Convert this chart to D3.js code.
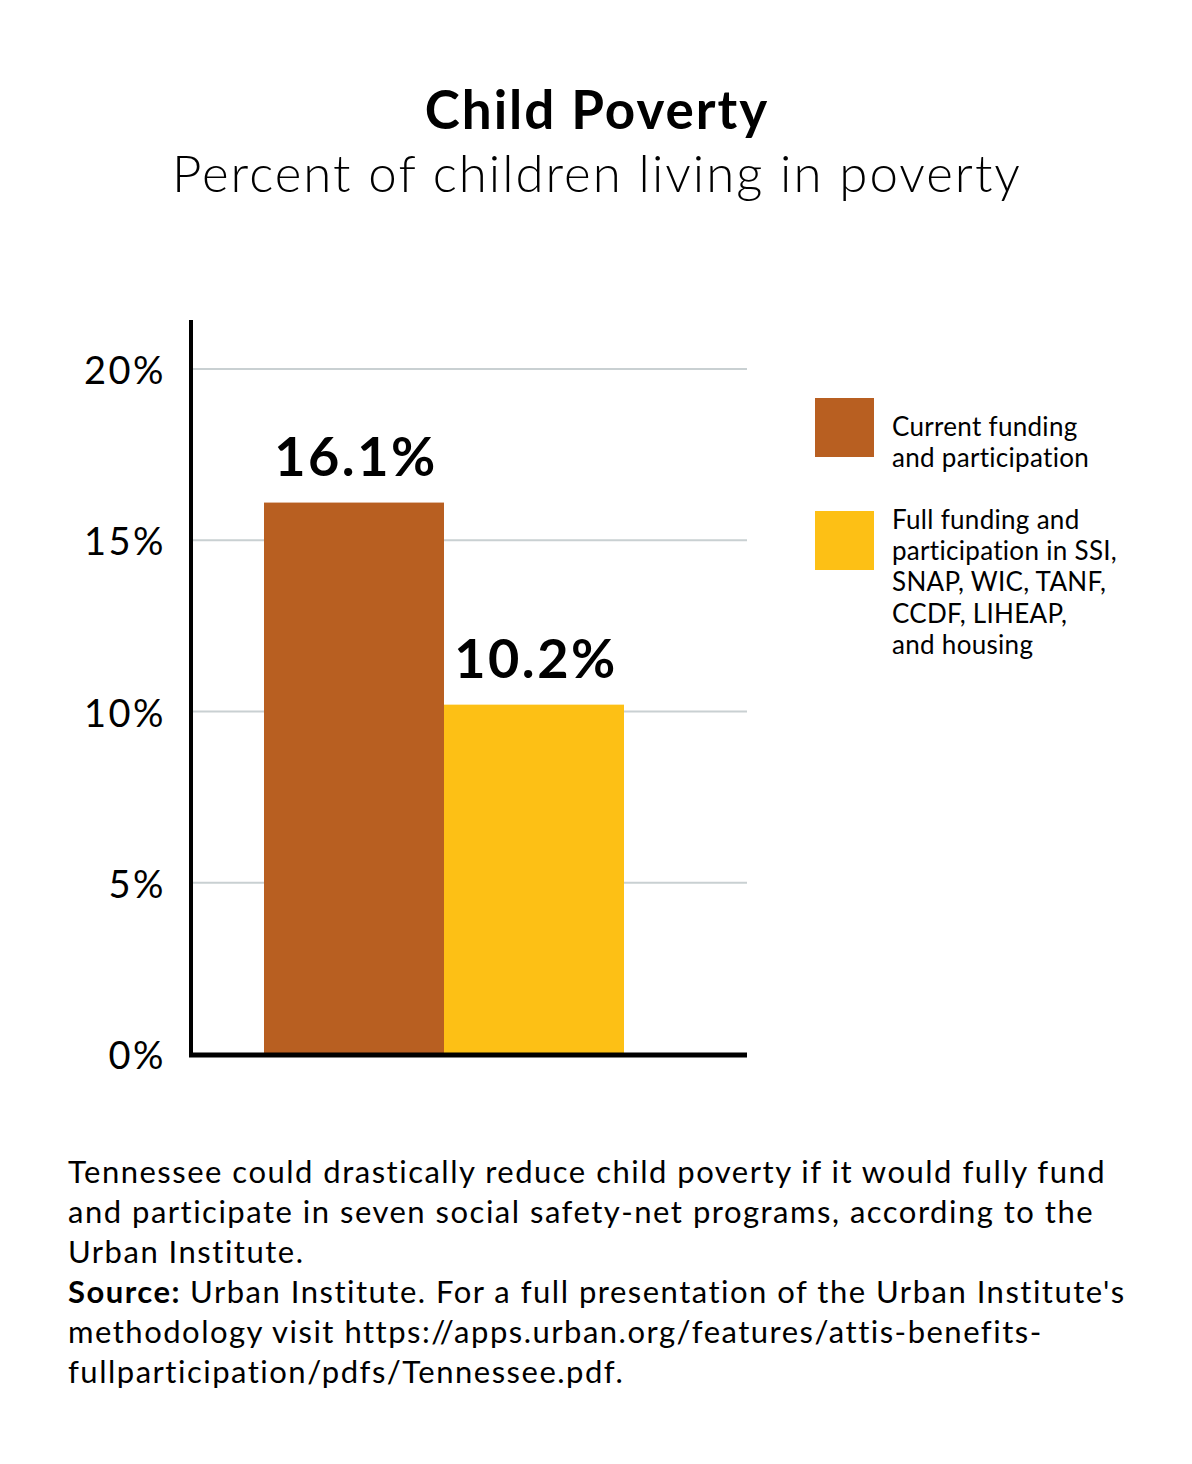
<!DOCTYPE html>
<html>
<head>
<meta charset="utf-8">
<script src="https://cdn.jsdelivr.net/npm/d3@7"></script>
<style>
  body { margin: 0; background: #fff; }
  svg text { font-family: Lato, "Noto Sans", sans-serif; fill: #000; }
</style>
</head>
<body>
<div id="chart"></div>
<script>
// data
const scenarios = ["Current funding and participation", "Full funding and participation in SSI, SNAP, WIC, TANF, CCDF, LIHEAP, and housing"];
const poverty = [16.1, 10.2];
const barColors = ["#B85F21", "#FDC015"];
const yTicks = [0, 5, 10, 15, 20];
const legendLines = [
  ["Current funding", "and participation"],
  ["Full funding and", "participation in SSI,", "SNAP, WIC, TANF,", "CCDF, LIHEAP,", "and housing"]
];
const noteLines = [
  "Tennessee could drastically reduce child poverty if it would fully fund",
  "and participate in seven social safety-net programs, according to the",
  "Urban Institute."
];
const sourceLines = [
  "Urban Institute. For a full presentation of the Urban Institute's",
  "methodology visit https://apps.urban.org/features/attis-benefits-",
  "fullparticipation/pdfs/Tennessee.pdf."
];

const width = 1192, height = 1464;
const svg = d3.select("#chart").append("svg")
  .attr("width", width).attr("height", height);

// titles
svg.append("text")
  .attr("x", 597).attr("y", 129)
  .attr("text-anchor", "middle")
  .style("font-size", "53px").style("font-weight", 700)
  .style("letter-spacing", "2px")
  .text("Child Poverty");
svg.append("text")
  .attr("x", 597).attr("y", 192)
  .attr("text-anchor", "middle")
  .style("font-size", "51px").style("font-weight", 300)
  .style("letter-spacing", "2px")
  .text("Percent of children living in poverty");

// plot area
const plotLeft = 191, plotRight = 747, plotTop = 320, plotBottom = 1054;

const y = d3.scaleLinear().domain([0, 20]).range([plotBottom, 369]);
const x = d3.scaleBand().domain(scenarios).range([264, 624]).padding(0);

// gridlines
svg.append("g").selectAll("line")
  .data(yTicks.filter(d => d > 0))
  .join("line")
  .attr("x1", plotLeft).attr("x2", plotRight)
  .attr("y1", d => y(d)).attr("y2", d => y(d))
  .attr("stroke", "#c9d0d2").attr("stroke-width", 2);

// y tick labels
svg.append("g").selectAll("text")
  .data(yTicks)
  .join("text")
  .attr("x", 166)
  .attr("y", d => y(d) + 15)
  .attr("text-anchor", "end")
  .style("font-size", "38px").style("font-weight", 400)
  .style("letter-spacing", "2.5px")
  .text(d => d + "%");

// bars
svg.append("g").selectAll("rect")
  .data(poverty)
  .join("rect")
  .attr("x", (d, i) => x(scenarios[i]))
  .attr("y", d => y(d))
  .attr("width", x.bandwidth())
  .attr("height", d => plotBottom - y(d))
  .attr("fill", (d, i) => barColors[i]);

// bar labels
svg.append("g").selectAll("text")
  .data(poverty)
  .join("text")
  .attr("x", (d, i) => x(scenarios[i]) + x.bandwidth() / 2 + 2)
  .attr("y", d => y(d) - 27)
  .attr("text-anchor", "middle")
  .style("font-size", "54px").style("font-weight", 700)
  .style("letter-spacing", "2.5px")
  .text(d => d.toFixed(1) + "%");

// axes lines
svg.append("line")
  .attr("x1", plotLeft).attr("x2", plotLeft)
  .attr("y1", plotTop).attr("y2", plotBottom + 2)
  .attr("stroke", "#000").attr("stroke-width", 4);
svg.append("line")
  .attr("x1", plotLeft - 2).attr("x2", plotRight)
  .attr("y1", plotBottom + 1).attr("y2", plotBottom + 1)
  .attr("stroke", "#000").attr("stroke-width", 5);

// legend
const legendY = [398, 511];
const legendTextY = [436, 529];
const leg = svg.append("g").selectAll("g")
  .data(scenarios)
  .join("g")
  .attr("transform", "translate(815,0)");
leg.append("rect")
  .attr("y", (d, i) => legendY[i])
  .attr("width", 59).attr("height", 59)
  .attr("fill", (d, i) => barColors[i]);
leg.each(function (d, i) {
  d3.select(this).selectAll("text")
    .data(legendLines[i])
    .join("text")
    .attr("x", 77)
    .attr("y", (t, j) => legendTextY[i] + j * 31.2)
    .style("font-size", "26px").style("font-weight", 400)
    .style("letter-spacing", "0.3px")
    .text(t => t);
});

// footnote
const note = svg.append("g").attr("transform", "translate(68,0)");
note.selectAll("text.note")
  .data(noteLines)
  .join("text")
  .attr("class", "note")
  .attr("y", (d, i) => 1183 + i * 40)
  .style("font-size", "31px").style("font-weight", 400)
  .style("letter-spacing", "1.5px")
  .text(d => d);
note.selectAll("text.src")
  .data(sourceLines)
  .join("text")
  .attr("class", "src")
  .attr("y", (d, i) => 1303 + i * 40)
  .style("font-size", "31px").style("font-weight", 400)
  .style("letter-spacing", "1.5px")
  .each(function (d, i) {
    const t = d3.select(this);
    if (i === 0) {
      t.append("tspan").style("font-weight", 700).text("Source: ");
      t.append("tspan").text(d);
    } else {
      t.text(d);
    }
  });
</script>
</body>
</html>
